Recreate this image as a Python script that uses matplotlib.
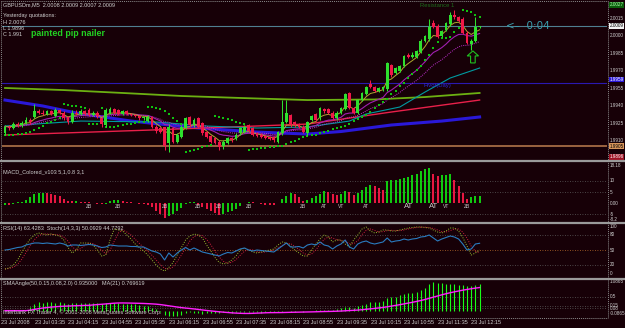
import numpy as np
import pandas as pd
import matplotlib
matplotlib.use("Agg")
import matplotlib.pyplot as plt
import matplotlib.transforms as mtrans
from matplotlib.lines import Line2D
from matplotlib.patches import Polygon

# ---------------- data ----------------
opens = [1.9916,1.9922,1.9921,1.9924,1.9923,1.9925,1.9928,1.9930,1.9935,1.9934,
         1.9933,1.9935,1.9931,1.9936,1.9934,1.9930,1.9926,1.9934,1.9933,1.9935,
         1.9936,1.9932,1.9934,1.9929,1.9923,1.9934,1.9937,1.9936,1.9933,1.9935,
         1.9933,1.9932,1.9931,1.9929,1.9927,1.9930,1.9922,1.9921,1.9922,1.9908,
         1.9921,1.9909,1.9913,1.9921,1.9930,1.9923,1.9929,1.9925,1.9917,1.9914,
         1.9912,1.9909,1.9905,1.9908,1.9912,1.9911,1.9916,1.9917,1.9923,1.9921,
         1.9916,1.9915,1.9914,1.9913,1.9913,1.9909,1.9916,1.9926,1.9932,1.9926,
         1.9924,1.9922,1.9916,1.9928,1.9933,1.9929,1.9937,1.9937,1.9934,1.9929,
         1.9934,1.9937,1.9951,1.9938,1.9934,1.9945,1.9950,1.9959,1.9956,1.9953,
         1.9954,1.9954,1.9975,1.9968,1.9970,1.9974,1.9984,1.9982,1.9982,1.9986,
         1.9996,1.9997,2.0011,2.0009,2.0000,2.0005,2.0010,2.0018,2.0016,2.0015,
         2.0003,1.9993,1.9996,2.0008]
closes = [1.9922,1.9921,1.9924,1.9923,1.9925,1.9928,1.9926,1.9935,1.9934,1.9933,
          1.9935,1.9933,1.9936,1.9934,1.9929,1.9926,1.9934,1.9933,1.9935,1.9933,
          1.9932,1.9934,1.9931,1.9924,1.9936,1.9937,1.9934,1.9933,1.9935,1.9933,
          1.9932,1.9931,1.9929,1.9930,1.9930,1.9922,1.9918,1.9917,1.9905,1.9922,
          1.9909,1.9915,1.9922,1.9929,1.9923,1.9928,1.9922,1.9916,1.9913,1.9909,
          1.9908,1.9904,1.9909,1.9912,1.9910,1.9915,1.9921,1.9922,1.9918,1.9915,
          1.9914,1.9913,1.9912,1.9911,1.9910,1.9917,1.9926,1.9934,1.9923,1.9923,
          1.9922,1.9917,1.9926,1.9931,1.9928,1.9938,1.9935,1.9934,1.9929,1.9934,
          1.9938,1.9950,1.9938,1.9934,1.9945,1.9951,1.9956,1.9956,1.9953,1.9955,
          1.9956,1.9977,1.9966,1.9972,1.9974,1.9983,1.9982,1.9984,1.9987,1.9996,
          2.0000,2.0008,2.0008,1.9999,2.0004,2.0011,2.0018,2.0016,2.0013,2.0003,
          1.9994,1.9996,2.0008,2.0009]
highs = [1.9923,1.9923,1.9926,1.9926,1.9927,1.9930,1.9929,1.9941,1.9937,1.9936,
         1.9936,1.9936,1.9938,1.9937,1.9935,1.9931,1.9936,1.9936,1.9937,1.9936,
         1.9938,1.9935,1.9935,1.9930,1.9938,1.9939,1.9938,1.9937,1.9936,1.9936,
         1.9934,1.9933,1.9932,1.9931,1.9932,1.9931,1.9923,1.9922,1.9922,1.9924,
         1.9922,1.9916,1.9923,1.9930,1.9931,1.9929,1.9930,1.9926,1.9918,1.9915,
         1.9913,1.9910,1.9910,1.9913,1.9913,1.9916,1.9922,1.9923,1.9924,1.9922,
         1.9917,1.9916,1.9915,1.9914,1.9914,1.9918,1.9945,1.9945,1.9933,1.9927,
         1.9925,1.9923,1.9927,1.9932,1.9934,1.9939,1.9938,1.9938,1.9935,1.9935,
         1.9939,1.9951,1.9952,1.9939,1.9946,1.9952,1.9957,1.9962,1.9957,1.9956,
         1.9957,1.9978,1.9976,1.9973,1.9975,1.9984,1.9985,1.9986,1.9988,1.9997,
         2.0001,2.0015,2.0014,2.0010,2.0005,2.0012,2.0021,2.0022,2.0017,2.0016,
         2.0004,1.9997,2.0016,2.0009]
lows = [1.9915,1.9919,1.9920,1.9922,1.9922,1.9924,1.9924,1.9929,1.9933,1.9932,
        1.9932,1.9932,1.9930,1.9933,1.9928,1.9924,1.9925,1.9932,1.9932,1.9932,
        1.9931,1.9931,1.9929,1.9922,1.9922,1.9933,1.9933,1.9932,1.9932,1.9932,
        1.9931,1.9930,1.9928,1.9928,1.9926,1.9921,1.9916,1.9916,1.9902,1.9900,
        1.9908,1.9908,1.9912,1.9920,1.9922,1.9922,1.9921,1.9915,1.9912,1.9908,
        1.9907,1.9902,1.9903,1.9907,1.9909,1.9910,1.9915,1.9916,1.9917,1.9914,
        1.9913,1.9912,1.9911,1.9910,1.9909,1.9908,1.9915,1.9925,1.9922,1.9922,
        1.9921,1.9916,1.9915,1.9927,1.9927,1.9928,1.9934,1.9933,1.9928,1.9928,
        1.9933,1.9936,1.9937,1.9933,1.9933,1.9944,1.9949,1.9955,1.9952,1.9952,
        1.9953,1.9953,1.9965,1.9967,1.9969,1.9973,1.9981,1.9981,1.9981,1.9985,
        1.9995,1.9996,2.0007,1.9998,1.9999,2.0004,2.0009,2.0015,2.0012,2.0002,
        1.9993,1.9988,1.9995,2.0007]

# long moving averages (bar index, value)
lime_idx = [0, 14, 28, 42, 56, 72, 88, 100, 113]
lime_val = [1.99552, 1.99534, 1.99509, 1.99483, 1.99466, 1.99448, 1.99453, 1.99474, 1.99509]
blue_idx = [0, 9, 17, 30, 46, 60, 72, 80, 92, 104, 113]
blue_val = [1.99448, 1.99397, 1.99336, 1.99267, 1.99207, 1.99172, 1.99155, 1.99177, 1.99233, 1.99267, 1.99302]
red_idx = [0, 35, 72, 92, 113]
red_val = [1.99147, 1.99190, 1.99241, 1.99345, 1.99448]
teal_idx = [0, 18, 36, 48, 60, 72, 82, 86, 94, 100, 106, 113]
teal_val = [1.99224, 1.99267, 1.99259, 1.99224, 1.99207, 1.99216, 1.99267, 1.99328, 1.99388, 1.99517, 1.99638, 1.99724]

macd_hist = [-0.8,-1.0,-0.6,0.3,0.6,1.5,2.8,4.0,4.5,4.6,
             4.4,4.2,3.5,3.0,2.0,1.0,0.8,1.0,0.6,0.5,
             0.4,0.2,-0.3,-0.6,-0.4,0.8,1.2,1.5,1.0,0.6,
             0.3,0.0,-0.3,-0.6,-1.0,-2.0,-3.5,-5.0,-6.8,-6.0,
             -5.2,-3.8,-2.2,-0.6,0.3,0.4,-0.8,-1.8,-2.8,-3.8,
             -4.6,-5.4,-5.0,-4.2,-3.6,-2.6,-1.2,0.2,0.6,0.3,
             -0.2,-0.5,-0.7,-0.9,-1.0,0.2,1.8,3.4,4.4,4.0,
             2.6,1.0,1.5,2.5,3.2,4.0,5.5,5.0,4.2,3.5,
             4.2,5.5,4.8,3.6,4.6,5.8,7.2,8.4,7.8,6.8,
             6.0,9.8,10.4,10.6,10.8,11.2,11.8,12.6,13.4,14.6,
             15.6,16.0,13.0,12.2,12.5,12.8,13.0,10.5,7.5,4.5,
             1.8,2.6,3.0,3.4]
macd_mark_idx = [20, 27, 38, 46, 51, 58, 71, 76, 80, 86, 96, 102, 105, 110]
macd_mark_txt = ["ZB", "ZB", "ZB", "ZB", "ZB", "ZB", "ZB", "AT", "VT", "AT", "AT", "AT", "VT", "ZB"]

rsi = [50,51,53,55,56,60,62,64,64,63,
       64,63,62,64,62,58,60,60,59,60,
       61,60,58,55,56,60,59,58,58,58,
       57,57,56,56,52,48,46,42,30,44,
       36,44,50,55,50,54,50,46,44,42,
       40,38,42,45,44,48,52,54,50,48,
       50,49,48,47,46,52,58,64,56,56,
       57,54,60,62,60,66,60,58,52,58,
       62,70,56,52,62,66,68,64,62,64,
       66,74,66,68,69,72,70,72,73,76,
       77,80,74,68,72,75,78,76,72,62,
       50,52,62,63.43]
stoch = [12,14,20,30,45,60,72,80,84,82,
         80,82,80,78,70,55,44,50,64,64,
         64,60,50,38,40,70,92,90,88,80,
         72,62,55,48,40,30,20,12,8,15,
         25,40,55,70,78,82,80,74,60,48,
         35,25,22,24,30,38,50,54,50,46,
         44,46,48,50,52,60,66,64,58,50,
         44,38,38,50,62,72,80,76,66,70,
         70,62,56,70,80,92,96,88,84,86,
         90,90,88,88,90,92,94,95,96,96,
         95,94,90,86,84,88,94,94,88,75,
         58,40,44,50.08]

sma_angle = [0,0,0,0,0,0,0.12,0.22,0.30,0.28,
             0.30,0.29,0.28,0.30,0.27,0.25,0.27,0.28,0.27,0.26,
             0.28,0.27,0.26,0.24,0.26,0.28,0.27,0.26,0.25,0.24,
             0.23,0.22,0.20,0.18,0.15,0.10,0.05,-0.05,-0.15,-0.20,
             -0.18,-0.20,-0.15,-0.08,-0.06,-0.08,-0.10,-0.12,-0.10,-0.08,
             -0.10,-0.08,-0.06,-0.06,-0.07,-0.05,-0.04,-0.05,-0.06,-0.05,
             -0.06,-0.07,-0.06,-0.05,-0.06,-0.05,-0.03,-0.02,-0.03,-0.03,
             -0.02,-0.03,-0.02,0.00,0.02,0.03,0.03,0.02,0.02,0.05,
             0.08,0.12,0.12,0.10,0.15,0.20,0.25,0.30,0.30,0.32,
             0.35,0.45,0.48,0.50,0.55,0.60,0.62,0.63,0.65,0.72,
             0.80,0.95,1.00,0.97,0.96,0.95,0.94,0.93,0.92,0.90,
             0.88,0.86,0.90,0.935]

time_label_idx = [0, 8, 16, 24, 32, 40, 48, 56, 64, 72, 80, 88, 96, 104, 112]
time_labels = ["23 Jul 2008", "23 Jul 03:35", "23 Jul 04:15", "23 Jul 04:55", "23 Jul 05:35",
               "23 Jul 06:15", "23 Jul 06:55", "23 Jul 07:35", "23 Jul 08:15", "23 Jul 08:55",
               "23 Jul 09:35", "23 Jul 10:15", "23 Jul 10:55", "23 Jul 11:35", "23 Jul 12:15"]

price_ticks = [2.0015, 2.0000, 1.9985, 1.9970, 1.9955, 1.9940, 1.9925, 1.9910]
current_price = 2.0009
pivot = 1.99595
resist1 = 2.0027
orange_level = 1.99052
yest_low = 1.9896

# ---------------- layout ----------------
BG = "#170007"
W, H = 625, 328
BAR_PX, FIRST_PX = 4.2, 5.0
X0, X1 = 2, 607
XL = ((X0 - FIRST_PX) / BAR_PX, (X1 - FIRST_PX) / BAR_PX)
FONT = "Liberation Sans"
TXT = "#cfcfcf"
FS = 4.0
RFS = 3.3

fig = plt.figure(figsize=(W / 100, H / 100), dpi=100, facecolor=BG)


def add_ax(y0, y1, ylim):
    ax = fig.add_axes([X0 / W, 1 - y1 / H, (X1 - X0) / W, (y1 - y0) / H])
    ax.set_facecolor(BG)
    ax.set_xlim(*XL)
    ax.set_ylim(*ylim)
    ax.axis("off")
    return ax


def fline(xs, ys, **kw):
    fig.add_artist(Line2D([x / W for x in xs], [1 - y / H for y in ys],
                          transform=fig.transFigure, **kw))


def ftext(x, y, s, **kw):
    kw.setdefault("fontsize", FS)
    kw.setdefault("color", TXT)
    kw.setdefault("family", FONT)
    fig.text(x / W, 1 - y / H, s, va="center", ha=kw.pop("ha", "left"), **kw)


def rlabel(ax, y, s, box=None, tc=TXT):
    kw = dict(transform=ax.get_yaxis_transform(), fontsize=RFS, color=tc,
              family=FONT, va="center", ha="left", clip_on=False)
    if box is not None:
        kw["bbox"] = dict(boxstyle="square,pad=0.1", fc=box, ec="none")
    ax.text(1.0045, y, s, **kw)


idx = np.arange(len(closes))
o = np.array(opens); c = np.array(closes); h = np.array(highs); l = np.array(lows)

# ---------------- main chart ----------------
ax = add_ax(2, 159, (1.98940, 2.00293))

ax.axhline(current_price, color="#4f7f90", lw=0.8)
ax.axhline(pivot, color="#2a18b0", lw=0.8)
ax.axhline(orange_level, color="#b0744a", lw=1.2)

ax.plot(lime_idx, lime_val, color="#6cb012", lw=1.3)
ax.plot(blue_idx, blue_val, color="#2a18d8", lw=2.2)
ax.plot(red_idx, red_val, color="#e8204a", lw=1.0)
ax.plot(teal_idx, teal_val, color="#009aa0", lw=0.8)

cs = pd.Series(closes)
ax.plot(idx, cs.ewm(span=21, adjust=False).mean(), color="#c030d0", lw=0.7, ls=(0, (1, 1.2)))
ax.plot(idx, cs.ewm(span=13, adjust=False).mean(), color="#a020b0", lw=0.8)
ax.plot(idx, cs.ewm(span=5, adjust=False).mean(), color="#b0a830", lw=0.7)


def psar(hi, lo, step=0.02, amax=0.2):
    n = len(hi); s = np.zeros(n); bull = True; af = step; ep = hi[0]; s[0] = lo[0]
    for i in range(1, n):
        v = s[i - 1] + af * (ep - s[i - 1])
        if bull:
            v = min(v, lo[i - 1], lo[max(i - 2, 0)])
            if lo[i] < v:
                bull, v, ep, af = False, ep, lo[i], step
            elif hi[i] > ep:
                ep, af = hi[i], min(af + step, amax)
        else:
            v = max(v, hi[i - 1], hi[max(i - 2, 0)])
            if hi[i] > v:
                bull, v, ep, af = True, ep, hi[i], step
            elif lo[i] < ep:
                ep, af = lo[i], min(af + step, amax)
        s[i] = v
    return s


ax.scatter(idx, psar(h, l), s=1.3, color="#10c010", marker="s", lw=0, zorder=3)

up = c >= o
GREEN, RED = "#2ee02e", "#f01848"
cols = np.where(up, GREEN, RED)
ax.vlines(idx, l, h, colors=cols, lw=0.75, zorder=4)
body = np.maximum(np.abs(c - o), 0.00006)
ax.bar(idx, body, bottom=np.minimum(o, c), width=0.66, color=cols, lw=0, zorder=5)

# up-arrow under the last swing low
ax_px = 0.0000862
ab = lows[111] - 13 * ax_px
ax_x = idx[111] + 0.4
arrow = [(ax_x, lows[111] - 1 * ax_px), (ax_x + 1.35, ab + 7 * ax_px), (ax_x + 0.55, ab + 7 * ax_px),
         (ax_x + 0.55, ab), (ax_x - 0.55, ab), (ax_x - 0.55, ab + 7 * ax_px),
         (ax_x - 1.35, ab + 7 * ax_px)]
ax.add_patch(Polygon(arrow, closed=True, fc="none", ec="#20c020", lw=0.8, zorder=6))

ax.text(103, resist1 - 0.00005, "Resistance 1", color="#1d6e1d", fontsize=4.2, family=FONT, ha="center", va="center")
ax.text(103, pivot - 0.00025, "Pivot(Day)", color="#2a2ad8", fontsize=4.2, family=FONT, ha="center", va="center")
ax.text(119.3, current_price, "<\u2013  0:04", color="#3aa0b0", fontsize=7.5, family="DejaVu Sans", ha="left", va="center")

for p in price_ticks:
    rlabel(ax, p, f"{p:.4f}")
rlabel(ax, resist1, f"{resist1:.4f}", box="#0b5e0b", tc="#b0ffb0")
rlabel(ax, current_price, f"{current_price:.4f}", box="#f4f4f4", tc="#000000")
rlabel(ax, pivot + 0.0003, f"{pivot:.4f}", box="#2a18d8", tc="#ffffff")
rlabel(ax, orange_level, f"{orange_level:.4f}", box="#d8955a", tc="#000000")
rlabel(ax, yest_low, f"{yest_low:.4f}", box="#a01224", tc="#ffffff")

# ---------------- MACD ----------------
axm = add_ax(163, 221, (-8.18, 18.18))
mh = np.array(macd_hist)
mcol = np.where(np.diff(mh, prepend=mh[0]) >= 0, "#10e010", "#ff1a48")
for v in (10, 5, -5):
    axm.axhline(v, color="#5c5c5c", lw=0.6, ls=(0, (1, 2)))
axm.vlines(idx, 0, mh, colors=mcol, lw=1.3)
for i, t in zip(macd_mark_idx, macd_mark_txt):
    big = t == "AT" and i in (96, 102)
    axm.text(i, -1.5, t, color="#c8c8c8", fontsize=5.5 if big else 3.6, family=FONT,
             ha="center", va="center")
for v, s in [(17.0, "18.18"), (10, "10"), (5, "5"), (0, "0.00"), (-5, "-5"), (-7.4, "-8.2")]:
    rlabel(axm, v, s)

# ---------------- RSI / Stoch ----------------
axr = add_ax(224, 277, (-4, 102))
axr.axhline(80, color="#5c5c5c", lw=0.6, ls=(0, (1, 2)))
axr.axhline(20, color="#5c5c5c", lw=0.6, ls=(0, (1, 2)))
axr.axhline(50, color="#b86a2a", lw=0.6, ls=(0, (1, 2)))
st = pd.Series(stoch)
axr.plot(idx, st.rolling(3, min_periods=1).mean(), color="#d02040", lw=0.7, ls=(0, (1, 1.5)))
axr.plot(idx, st, color="#9ac030", lw=0.7, ls=(0, (1, 1.5)))
axr.plot(idx, rsi, color="#2a7cc0", lw=0.8)
for v, s in [(97, "100"), (80, "80"), (50, "50"), (20, "20"), (3, "0")]:
    rlabel(axr, v, s)

# ---------------- SMA angle ----------------
axs = add_ax(280, 317, (-0.224, 1.083))
for v in (0.5, 0.15, 0.08):
    axs.axhline(v, color="#5c5c5c", lw=0.6, ls=(0, (1, 2)))
sa = np.array(sma_angle)
axs.vlines(idx, 0, sa, colors="#18ff18", lw=0.8)
axs.plot(idx, pd.Series(sma_angle).rolling(21, min_periods=1).mean(), color="#ff20ff", lw=1.0)
for v, s in [(1.04, "1.0865"), (0.5, "0.5"), (0.19, "0.15"), (0.06, "0.08"), (-0.1, "-0.0865")]:
    rlabel(axs, v, s)

tr = mtrans.blended_transform_factory(axs.transData, axs.transAxes)
for i, s in zip(time_label_idx, time_labels):
    axs.text(i - 0.95, -0.14, s, transform=tr, fontsize=FS, color=TXT, family=FONT,
             ha="left", va="center", clip_on=False)

# ---------------- frame / separators ----------------
fline([1, 607.5], [1, 1], color="#8a8a8a", lw=0.7, ls=(0, (1, 1)))
fline([1, 1], [1, 317], color="#8a8a8a", lw=0.7, ls=(0, (1, 1)))
fline([607.5, 607.5], [1, 317.5], color="#8a8a8a", lw=0.7, ls=(0, (1, 1)))
fline([1, 607.5], [317.5, 317.5], color="#8a8a8a", lw=0.7, ls=(0, (1, 1)))
for y in (160.8, 222.6, 278.6):
    fline([1, 625], [y, y], color="#9a9a9a", lw=1.6)

# ---------------- texts ----------------
ftext(3, 5, "GBPUSDm,M5  2.0008 2.0009 2.0007 2.0009")
ftext(3, 15, "Yesterday quotations:")
ftext(3, 22, "H 2.0076")
ftext(3, 29, "L 1.9896")
ftext(3, 35, "C 1.991")
ftext(31, 33.5, "painted pip nailer", fontsize=6.4, color="#22d022", weight="bold")
ftext(3, 171.5, "MACD_Colored_v103 5,1,0.8 3,1")
ftext(3, 228.5, "RSI(14) 63.4283  Stoch(14,3,3) 50.0929 44.7792")
ftext(3, 283, "SMAAngle(50,0.15,0.08,2.0) 0.935000   MA(21) 0.769619")
ftext(3, 312.5, "Interbank FX Trader 4, \u00a9 2001-2008 MetaQuotes Software Corp.")

fig.savefig("out.png", dpi=100, facecolor=BG)
